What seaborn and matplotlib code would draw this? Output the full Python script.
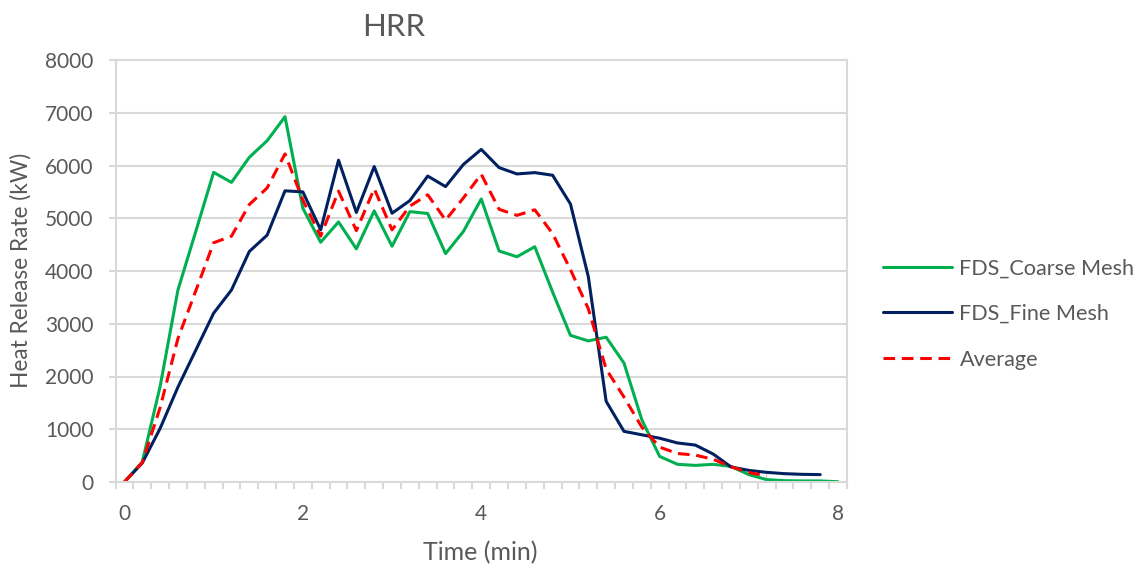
import matplotlib
matplotlib.use("Agg")
import matplotlib.pyplot as plt
from matplotlib.ticker import MultipleLocator, FixedLocator
import seaborn as sns


## Data (time step 0.2 min)

time_min = [0.0, 0.2, 0.4, 0.6, 0.8, 1.0, 1.2, 1.4, 1.6, 1.8,
            2.0, 2.2, 2.4, 2.6, 2.8, 3.0, 3.2, 3.4, 3.6, 3.8,
            4.0, 4.2, 4.4, 4.6, 4.8, 5.0, 5.2, 5.4, 5.6, 5.8,
            6.0, 6.2, 6.4, 6.6, 6.8, 7.0, 7.2, 7.4, 7.6, 7.8, 8.0]

coarse_hrr = [0, 380, 1810, 3640, 4750, 5870, 5680, 6155, 6470, 6925,
              5190, 4545, 4930, 4420, 5140, 4470, 5126, 5090, 4330, 4750,
              5365, 4380, 4270, 4460, 3600, 2780, 2675, 2745, 2255, 1180,
              485, 335, 315, 335, 295, 140, 45, 25, 20, 20, 5]

fine_hrr = [0, 360, 1015, 1800, 2500, 3200, 3640, 4370, 4680, 5520,
            5500, 4780, 6100, 5110, 5980, 5095, 5335, 5800, 5600, 6020,
            6305, 5960, 5840, 5865, 5815, 5270, 3895, 1530, 960, 895,
            830, 740, 700, 530, 285, 220, 183, 158, 145, 140]

avg_hrr = [0, 370, 1410, 2720, 3625, 4535, 4660, 5260, 5575, 6220,
           5345, 4660, 5515, 4765, 5560, 4780, 5230, 5445, 4965, 5385,
           5835, 5170, 5055, 5160, 4710, 4025, 3285, 2140, 1610, 1040,
           660, 540, 510, 430, 290, 180, 115]

series_names = ['FDS_Coarse Mesh', 'FDS_Fine Mesh', 'Average']
x_ticks = [0, 2, 4, 6, 8]


sns.set_style('white')
plt.rcParams['font.family'] = ['Lato', 'DejaVu Sans']

grey_txt = '#595959'
grey_line = '#d9d9d9'

fig = plt.figure(figsize=(11.46, 5.69), dpi=100)
ax = fig.add_axes([115.5 / 1146, 1 - 482 / 569, (847 - 115.5) / 1146, (482 - 60) / 569])

sns.lineplot(x=time_min, y=coarse_hrr, ax=ax, color='#00b050', lw=2.2, label=series_names[0])
sns.lineplot(x=time_min[:len(fine_hrr)], y=fine_hrr, ax=ax, color='#002060', lw=2.2, label=series_names[1])
sns.lineplot(x=time_min[:len(avg_hrr)], y=avg_hrr, ax=ax, color='#ff0000', lw=2.2,
             linestyle=(0, (3.8, 2.2)), label=series_names[2])

ax.set_xlim(-0.1, 8.1)
ax.set_ylim(0, 8000)
ax.yaxis.set_major_locator(MultipleLocator(1000))
ax.xaxis.set_major_locator(FixedLocator(x_ticks))
ax.xaxis.set_minor_locator(MultipleLocator(0.2, offset=0.1))

ax.grid(axis='y', color=grey_line, lw=1.5)
ax.grid(axis='x', visible=False)
for sp in ax.spines.values():
    sp.set_color(grey_line)
    sp.set_linewidth(1.5)

ax.tick_params(axis='y', which='major', length=5, width=1.5, color=grey_line,
               labelsize=15, labelcolor=grey_txt, pad=11, left=True)
ax.tick_params(axis='x', which='major', length=0, labelsize=15, labelcolor=grey_txt, pad=16)
ax.tick_params(axis='x', which='minor', length=5, width=1.5, color=grey_line, bottom=True)
ax.set_xlabel('')
ax.set_ylabel('')

fig.text(394 / 1146, 1 - 36 / 569, 'HRR', ha='center', va='baseline', fontsize=22.5, color=grey_txt)
fig.text(480 / 1146, 1 - 560 / 569, 'Time (min)', ha='center', va='baseline', fontsize=18, color=grey_txt)
fig.text(21 / 1146, 1 - 270 / 569, 'Heat Release Rate (kW)', ha='center', va='center',
         rotation=90, fontsize=16.3, color=grey_txt)

handles, labels = ax.get_legend_handles_labels()
ax.get_legend().remove()
fig.legend(handles, labels, loc='center left', bbox_to_anchor=(883 / 1146, 1 - 314 / 569),
           frameon=False, fontsize=15.6, labelcolor=grey_txt, handlelength=3.2,
           handletextpad=0.33, labelspacing=1.18, borderpad=0, borderaxespad=0)

fig.savefig('out.png', dpi=100)
